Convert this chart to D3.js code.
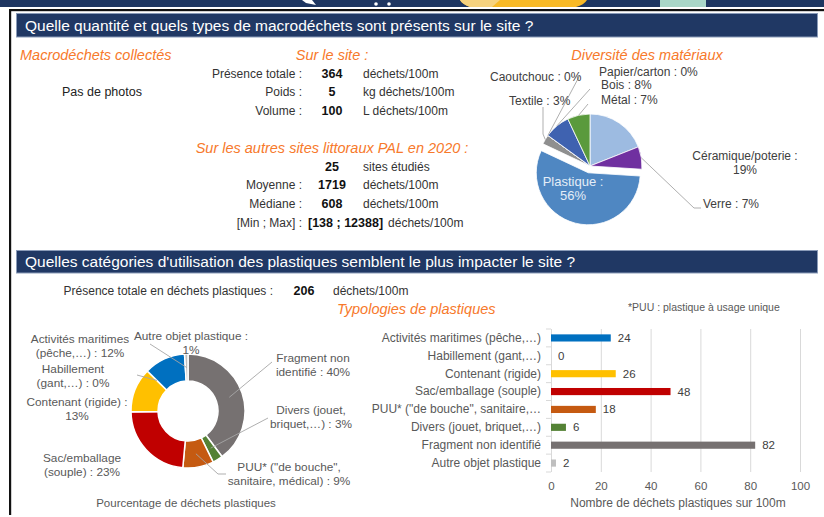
<!DOCTYPE html>
<html>
<head>
<meta charset="utf-8">
<script src="https://cdn.jsdelivr.net/npm/d3@7"></script>
<style>
    body { margin: 0; background: #fff; }
    svg { display: block; font-family: "Liberation Sans", Arial, sans-serif; }
</style>
</head>
<body>
<svg id="chart" width="824" height="517"></svg>
<script>
// ---- data ----
const siteLabels = ["Présence totale :", "Poids :", "Volume :"];
const siteValues = ["364", "5", "100"];
const siteUnits = ["déchets/100m", "kg déchets/100m", "L déchets/100m"];

const palLabels = ["", "Moyenne :", "Médiane :", "[Min ; Max] :"];
const palValues = ["25", "1719", "608", "[138 ; 12388]"];
const palUnits = ["sites étudiés", "déchets/100m", "déchets/100m", "déchets/100m"];

const materials = ["Papier/carton", "Céramique/poterie", "Verre", "Plastique", "Textile", "Caoutchouc", "Bois", "Métal"];
const materialPct = [0, 19, 7, 56, 3, 0, 8, 7];
const materialColors = ["#c9c9c9", "#9dbbe1", "#7030a0", "#4f87c2", "#8f8f8f", "#6d6d6d", "#3f62b0", "#5a9a3c"];

const plasticTotal = 206;
const plasticCats = ["Activités maritimes (pêche,…)", "Habillement (gant,…)", "Contenant (rigide)", "Sac/emballage (souple)",
    "PUU* (\"de bouche\", sanitaire,…", "Divers (jouet, briquet,…)", "Fragment non identifié", "Autre objet plastique"];
const plasticCounts = [24, 0, 26, 48, 18, 6, 82, 2];
const plasticColors = ["#0070c0", "#7f7f7f", "#ffc000", "#c00000", "#c55a11", "#548235", "#767171", "#bfbfbf"];
// donut label text (two lines), percentage is appended
const donutLabelParts = [["Activités maritimes", "(pêche,…)"], ["Habillement", "(gant,…)"], ["Contenant (rigide)", ""],
    ["Sac/emballage", "(souple)"], ["PUU* (\"de bouche\",", "sanitaire, médical)"], ["Divers (jouet,", "briquet,…)"],
    ["Fragment non", "identifié"], ["Autre objet plastique", ""]];
// order of the slices clockwise from 12 o'clock
const donutOrder = [6, 5, 4, 3, 2, 1, 0, 7];
const barTicks = [0, 20, 40, 60, 80, 100];

const svg = d3.select("#chart");
const navy = "#203864";
const orange = "#f7792b";
const grey = "#595959";

// ---- frame / banner ----
svg.append("rect").attr("x", 0).attr("y", 0).attr("width", 824).attr("height", 7).attr("fill", "#1e3661");
svg.append("path").attr("d", "M460,0 L587,0 Q584,5 576,7 L470,7 Q462,4 460,0Z").attr("fill", "#f8b925");
svg.append("path").attr("d", "M460,0 L500,0 L492,7 L470,7 Q462,4 460,0Z").attr("fill", "#f6d27e");
svg.append("rect").attr("x", 660).attr("y", 0).attr("width", 46).attr("height", 7).attr("fill", "#a9d7c8");
svg.append("path").attr("d", "M302,0 L312,0 L316,5 L306,3Z").attr("fill", "#fff");
svg.append("circle").attr("cx", 376).attr("cy", 4).attr("r", 1.8).attr("fill", "#fff");
svg.append("circle").attr("cx", 389).attr("cy", 4).attr("r", 1.8).attr("fill", "#fff");
svg.append("rect").attr("x", 9).attr("y", 9).attr("width", 815).attr("height", 2.2).attr("fill", "#111");
svg.append("rect").attr("x", 9).attr("y", 9).attr("width", 2.2).attr("height", 506).attr("fill", "#111");

// section headers
function header(y, h, label) {
    svg.append("rect").attr("x", 16.5).attr("y", y).attr("width", 801).attr("height", h)
        .attr("fill", navy).attr("stroke", "#8a9bb8").attr("stroke-width", 1);
    svg.append("text").attr("x", 25).attr("y", y + h / 2 + 5.5)
        .attr("fill", "#fff").style("font-size", "15.5px").text(label);
}
header(13.5, 23.5, "Quelle quantité et quels types de macrodéchets sont présents sur le site ?");
header(250.5, 22.5, "Quelles catégories d'utilisation des plastiques semblent le plus impacter le site ?");

function orangeTitle(x, y, anchor, label) {
    svg.append("text").attr("x", x).attr("y", y).attr("text-anchor", anchor)
        .attr("fill", orange).style("font-size", "14.5px").style("font-style", "italic").text(label);
}

// ---- section 1: stats ----
orangeTitle(20, 60, "start", "Macrodéchets collectés");
svg.append("text").attr("x", 62).attr("y", 96).attr("fill", "#222").style("font-size", "12.5px").text("Pas de photos");

orangeTitle(332, 60, "middle", "Sur le site :");
orangeTitle(332, 153, "middle", "Sur les autres sites littoraux PAL en 2020 :");

function statRows(labels, values, units, y0, dy) {
    labels.forEach((lab, i) => {
        const y = y0 + i * dy;
        svg.append("text").attr("x", 302).attr("y", y).attr("text-anchor", "end")
            .attr("fill", "#333").style("font-size", "12px").text(lab);
        const wide = values[i].length > 5;
        const v = svg.append("text").attr("x", wide ? 308 : 332).attr("y", y)
            .attr("text-anchor", wide ? "start" : "middle")
            .attr("fill", "#111").style("font-size", "12.5px").style("font-weight", "bold").text(values[i]);
        const ux = wide ? 308 + v.node().getComputedTextLength() + 5 : 363;
        svg.append("text").attr("x", ux).attr("y", y)
            .attr("fill", "#333").style("font-size", "12px").text(units[i]);
    });
}
statRows(siteLabels, siteValues, siteUnits, 77.5, 18.5);
statRows(palLabels, palValues, palUnits, 170.5, 18.7);

// ---- section 1: pie ----
orangeTitle(647, 60, "middle", "Diversité des matériaux");

const pieC = [590, 166], pieR = 52;
const pie = d3.pie().sort(null).value(d => d.v);
const pieData = pie(materials.map((m, i) => ({ name: m, v: materialPct[i], i: i })));
const arc = d3.arc().innerRadius(0).outerRadius(pieR);
const pieG = svg.append("g").attr("transform", `translate(${pieC[0]},${pieC[1]})`);

pieG.selectAll("path").data(pieData).enter().append("path")
    .attr("d", arc)
    .attr("fill", d => materialColors[d.data.i])
    .attr("stroke", "#fff").attr("stroke-width", 0.8)
    .attr("transform", d => {
        if (d.data.name !== "Plastique") return null;
        const a = (d.startAngle + d.endAngle) / 2;
        return `translate(${Math.sin(a) * 7},${-Math.cos(a) * 7})`;
    });

function pieEdge(i, frac) {
    const d = pieData[i];
    const a = d.startAngle + (d.endAngle - d.startAngle) * frac;
    return [pieC[0] + Math.sin(a) * pieR, pieC[1] - Math.cos(a) * pieR];
}
const pieLeaders = [
    { i: 5, pts: [[580, 75]] },
    { i: 4, pts: [[543, 107], [543, 134]] },
    { i: 6, pts: [[590, 89]] },
    { i: 7, pts: [[588, 104]] }
];
pieLeaders.forEach(l => {
    svg.append("path").attr("d", d3.line()(l.pts.concat([pieEdge(l.i, 0.5)])))
        .attr("fill", "none").attr("stroke", "#a6a6a6").attr("stroke-width", 0.9);
});
svg.append("path").attr("d", d3.line()([pieEdge(2, 0.5), [694, 208], [701, 208]]))
    .attr("fill", "none").attr("stroke", "#a6a6a6").attr("stroke-width", 0.9);

function pieLabel(x, y, anchor, lines, color, size) {
    const t = svg.append("text").attr("text-anchor", anchor).attr("fill", color || "#404040").style("font-size", size || "12px");
    lines.forEach((s, k) => t.append("tspan").attr("x", x).attr("y", y + k * 13.5).text(s));
}
const pct = i => materialPct[i] + "%";
pieLabel(599, 76, "start", [materials[0] + " : " + pct(0)]);
pieLabel(745, 160, "middle", [materials[1] + " :", pct(1)]);
pieLabel(703, 208, "start", [materials[2] + " : " + pct(2)]);
pieLabel(573, 186, "middle", [materials[3] + " :", pct(3)], "#e4edf7", "13px");
pieLabel(509, 105, "start", [materials[4] + " : " + pct(4)]);
pieLabel(490, 81, "start", [materials[5] + " : " + pct(5)]);
pieLabel(601, 89, "start", [materials[6] + " : " + pct(6)]);
pieLabel(601, 104, "start", [materials[7] + " : " + pct(7)]);

// ---- section 2 ----
svg.append("text").attr("x", 273).attr("y", 295).attr("text-anchor", "end")
    .attr("fill", "#333").style("font-size", "12px").text("Présence totale en déchets plastiques :");
svg.append("text").attr("x", 304).attr("y", 295).attr("text-anchor", "middle")
    .attr("fill", "#111").style("font-size", "12.5px").style("font-weight", "bold").text(plasticTotal);
svg.append("text").attr("x", 333).attr("y", 295)
    .attr("fill", "#333").style("font-size", "12px").text("déchets/100m");
orangeTitle(337, 314, "start", "Typologies de plastiques");
svg.append("text").attr("x", 628).attr("y", 311).attr("fill", grey).style("font-size", "10.5px")
    .text("*PUU : plastique à usage unique");

// donut
const donC = [188, 411];
const donut = d3.pie().sort(null).value(d => d.v);
const donData = donut(donutOrder.map(i => ({ i: i, v: plasticCounts[i] })));
const donArc = d3.arc().innerRadius(30).outerRadius(57);
const donG = svg.append("g").attr("transform", `translate(${donC[0]},${donC[1]})`);
donG.selectAll("path").data(donData).enter().append("path")
    .attr("d", donArc)
    .attr("fill", d => plasticColors[d.data.i])
    .attr("stroke", "#fff").attr("stroke-width", 1.5);

const donutLabelPos = [[80, 343], [73, 373], [77, 406], [82, 462], [289, 471], [311, 414], [313, 362], [191, 340]];
const donutLeaders = { 7: [[150, 344]], 1: [[137, 375]], 6: [[272, 362]], 5: [[268, 418]], 4: [[226, 474], [218, 474]] };
donData.forEach(d => {
    const i = d.data.i;
    const p = Math.round(plasticCounts[i] / plasticTotal * 100) + "%";
    const parts = donutLabelParts[i];
    const lines = parts[1] === "" ? [parts[0] + " :", p] : [parts[0], parts[1] + " : " + p];
    const t = svg.append("text").attr("text-anchor", "middle").attr("fill", grey).style("font-size", "11.8px");
    lines.forEach((s, k) => t.append("tspan").attr("x", donutLabelPos[i][0]).attr("y", donutLabelPos[i][1] + k * 13.5).text(s));
    if (donutLeaders[i]) {
        const c = donArc.centroid(d);
        svg.append("path").attr("d", d3.line()(donutLeaders[i].concat([[donC[0] + c[0], donC[1] + c[1]]])))
            .attr("fill", "none").attr("stroke", "#a6a6a6").attr("stroke-width", 0.9);
    }
});
svg.append("text").attr("x", 186).attr("y", 507).attr("text-anchor", "middle")
    .attr("fill", grey).style("font-size", "11.5px").text("Pourcentage de déchets plastiques");

// bar chart
const x = d3.scaleLinear().domain([0, 100]).range([551, 800]);
const y = d3.scaleBand().domain(plasticCats).range([329, 472]).paddingInner(0.6).paddingOuter(0.3);

const grid = svg.append("g").attr("transform", "translate(0,472)")
    .call(d3.axisBottom(x).tickValues(barTicks).tickSize(-143).tickFormat(""));
grid.select(".domain").remove();
grid.selectAll(".tick line").attr("stroke", "#d9d9d9");

const xAxis = svg.append("g").attr("transform", "translate(0,472)")
    .call(d3.axisBottom(x).tickValues(barTicks).tickSize(0).tickPadding(10));
xAxis.select(".domain").remove();
xAxis.selectAll("text").attr("fill", grey).style("font-size", "11.5px").attr("font-family", null);

// category ticks on the left
svg.append("g").selectAll("line").data(d3.range(plasticCats.length + 1)).enter().append("line")
    .attr("x1", 546).attr("x2", 551)
    .attr("y1", k => 329 + k * y.step()).attr("y2", k => 329 + k * y.step())
    .attr("stroke", "#d9d9d9");

const yAxis = svg.append("g").attr("transform", "translate(551,0)")
    .call(d3.axisLeft(y).tickSize(0).tickPadding(10));
yAxis.select(".domain").remove();
yAxis.selectAll("text").attr("fill", grey).style("font-size", "12px").attr("font-family", null);

svg.append("g").selectAll("rect").data(plasticCats).enter().append("rect")
    .attr("x", x(0))
    .attr("y", d => y(d))
    .attr("width", (d, i) => x(plasticCounts[i]) - x(0))
    .attr("height", y.bandwidth())
    .attr("fill", (d, i) => plasticColors[i]);

svg.append("g").selectAll("text").data(plasticCats).enter().append("text")
    .attr("x", (d, i) => x(plasticCounts[i]) + 7)
    .attr("y", d => y(d) + y.bandwidth() / 2)
    .attr("dy", "0.35em")
    .attr("fill", "#404040").style("font-size", "11.5px")
    .text((d, i) => plasticCounts[i]);

svg.append("text").attr("x", 678).attr("y", 507).attr("text-anchor", "middle")
    .attr("fill", grey).style("font-size", "12px").text("Nombre de déchets plastiques sur 100m");
</script>
</body>
</html>
